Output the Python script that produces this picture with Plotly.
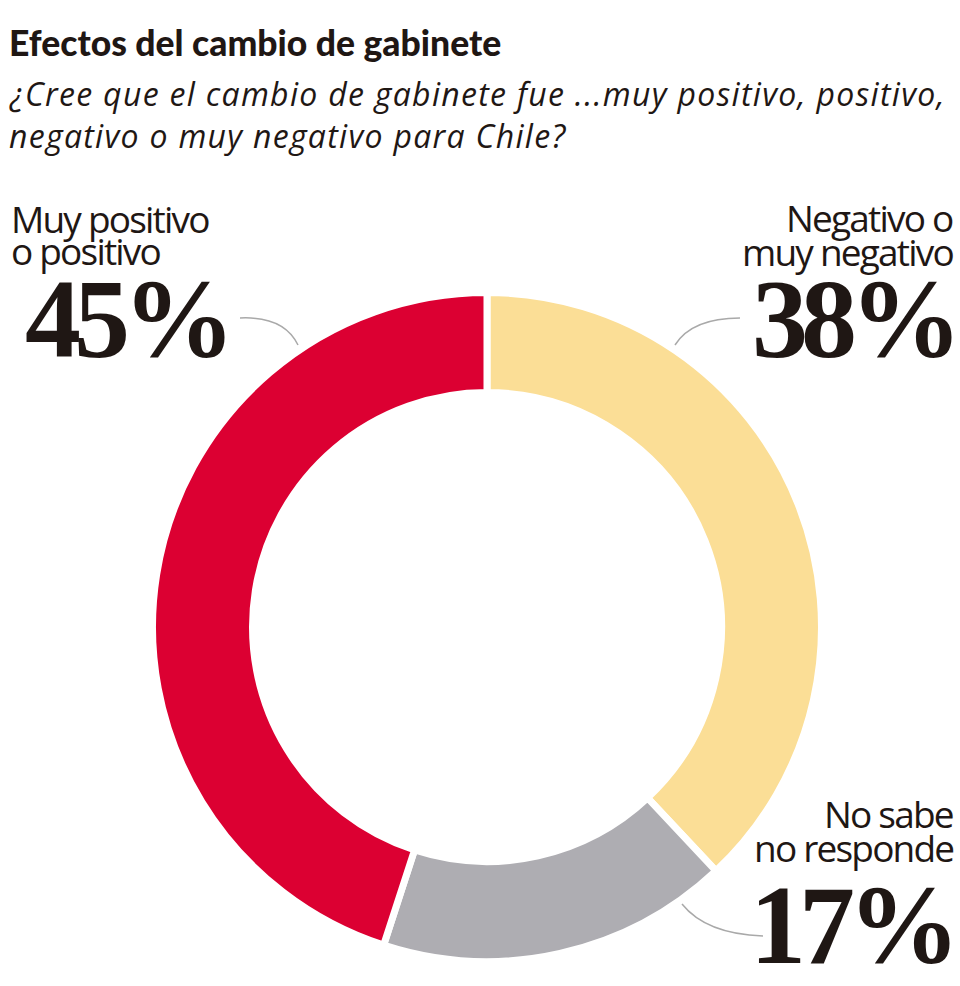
import plotly.graph_objects as go

W, H = 960, 986

# ---- data ----
categories = ["Negativo o muy negativo", "No sabe no responde", "Muy positivo o positivo"]
values = [38, 17, 45]
colors = ["#FBDE96", "#AEADB2", "#DC0032"]
label_lines = {
    "Negativo o muy negativo": ["Negativo o", "muy negativo"],
    "No sabe no responde": ["No sabe", "no responde"],
    "Muy positivo o positivo": ["Muy positivo", "o positivo"],
}
title = "Efectos del cambio de gabinete"
subtitle_lines = ["¿Cree que el cambio de gabinete fue ...muy positivo, positivo,",
                  "negativo o muy negativo para Chile?"]

TXT = "#1f1714"

def px(x):
    return x / W

def py(y):
    return 1 - y / H

fig = go.Figure()

# donut geometry (pixels); white stroke eats 3.5px on each edge
cx, cy, r = 487, 627, 334.5
fig.add_trace(go.Pie(
    labels=categories, values=values, sort=False, direction="clockwise", rotation=0,
    hole=0.701, textinfo="none", hoverinfo="skip",
    marker=dict(colors=colors, line=dict(color="white", width=7)),
    domain=dict(x=[px(cx - r), px(cx + r)], y=[py(cy + r), py(cy - r)]),
    showlegend=False,
))

anns = []

def add_text(text, x, baseline, size, family, anchor="left", k=0.36, weight="normal",
             style="normal", ls=None):
    t = text
    if ls is not None:
        t = f'<span style="letter-spacing:{ls}px">{text}</span>'
    anns.append(dict(
        text=t, x=px(x), y=py(baseline - k * size), xref="paper", yref="paper",
        xanchor=anchor, yanchor="middle", showarrow=False,
        font=dict(family=family, size=size, color=TXT, weight=weight, style=style),
        borderpad=0,
    ))

# title & subtitle
add_text(title, 8, 53, 35.5, "Lato", weight=900, k=0.30)
add_text(subtitle_lines[0], 8, 106, 32, "Open Sans", style="italic", k=0.39, ls=1.3)
add_text(subtitle_lines[1], 8, 148, 32, "Open Sans", style="italic", k=0.39, ls=1.3)

SANS = "Open Sans"
SERIF = "Liberation Serif"
lab_size = 37
num_size = 112

pos = {
    "Muy positivo o positivo": dict(anchor="left", x=10, b1=233, b2=265, nx=24, nb=357),
    "Negativo o muy negativo": dict(anchor="right", x=954, b1=232, b2=266, nx=956, nb=357),
    "No sabe no responde": dict(anchor="right", x=954, b1=828, b2=862, nx=954, nb=963),
}
for cat, v in zip(categories, values):
    p = pos[cat]
    l1, l2 = label_lines[cat]
    add_text(l1, p["x"], p["b1"], lab_size, SANS, anchor=p["anchor"], k=0.39, ls=-1.8)
    add_text(l2, p["x"], p["b2"], lab_size, SANS, anchor=p["anchor"], k=0.39, ls=-1.8)
    add_text(f"{v}%", p["nx"], p["nb"], num_size, SERIF, anchor=p["anchor"], k=0.34,
             weight="bold", ls=-7)

# connector curves
def curve(x0, y0, xc, yc, x1, y1):
    return dict(type="path", xref="paper", yref="paper",
                path=f"M {px(x0)},{py(y0)} Q {px(xc)},{py(yc)} {px(x1)},{py(y1)}",
                line=dict(color="#A9A9A9", width=1.5))

shapes = [
    curve(240, 318, 284, 316, 298, 345),
    curve(740, 318, 692, 318, 675, 345),
    curve(682, 904, 706, 934, 763, 936),
]

fig.update_layout(
    width=W, height=H, margin=dict(l=0, r=0, t=0, b=0),
    paper_bgcolor="white", plot_bgcolor="white",
    annotations=anns, shapes=shapes, showlegend=False,
)
fig.write_html("out.html", config={"displayModeBar": False},
               post_script="document.body.style.margin='0';")
